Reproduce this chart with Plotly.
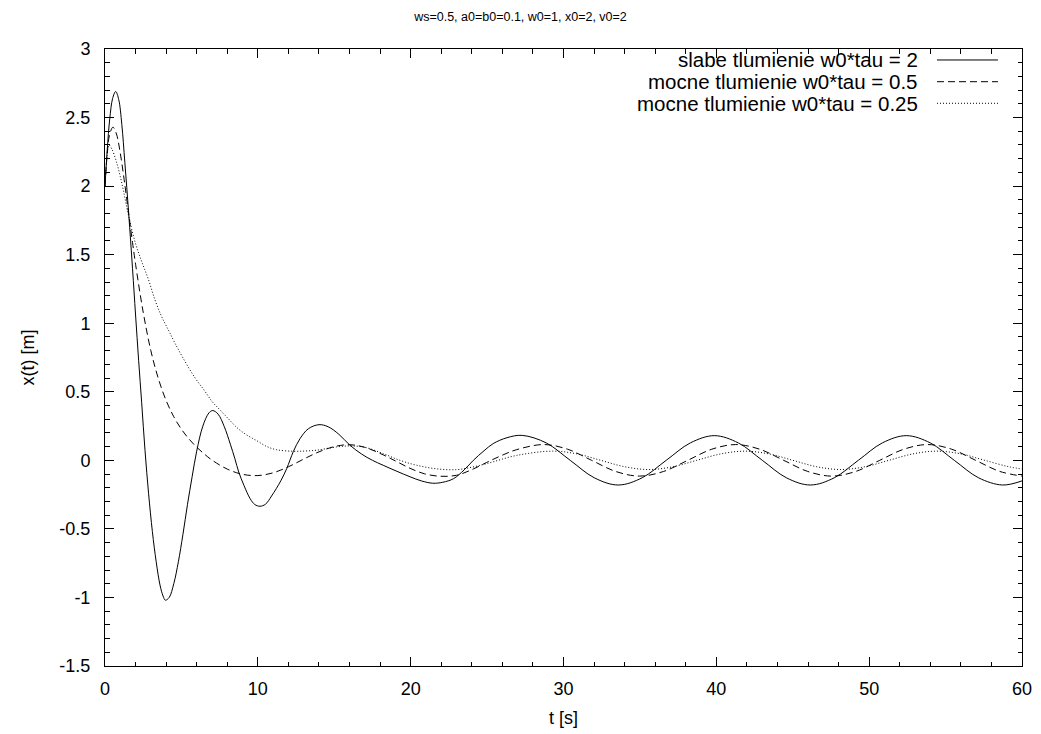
import plotly.graph_objects as go

# ---- data ----
title_text = "ws=0.5, a0=b0=0.1, w0=1, x0=2, v0=2"
names = ["slabe tlumienie w0*tau = 2",
         "mocne tlumienie w0*tau = 0.5",
         "mocne tlumienie w0*tau = 0.25"]

t_weak = [0, 0.15, 0.31, 0.5, 0.7, 0.9, 1.1, 1.3, 1.55, 1.8, 2.0, 2.2, 2.4, 2.62,
          2.85, 3.1, 3.35, 3.6, 3.8, 3.95, 4.2, 4.5, 4.8, 5.1, 5.4, 5.7, 6.0,
          6.4, 6.8, 7.05, 7.4, 7.8, 8.2, 8.5, 8.75, 9.1, 9.5, 9.8, 10.14, 10.5,
          10.9, 11.5, 11.89, 12.33, 12.76, 13.3, 14.0, 14.6, 15.3, 16.03, 16.8,
          17.5, 18.2, 19.1, 19.96, 20.7, 21.45, 22.1, 22.8, 23.5, 24.1, 24.8,
          25.4, 26.3, 27.3, 28.87, 30.44, 32.01, 33.58, 35.15, 36.72, 38.3,
          39.87, 41.44, 43.01, 44.58, 46.15, 47.72, 49.29, 50.86, 52.43, 54.0,
          55.57, 57.15, 58.72, 60]
x_weak = [2.00, 2.27, 2.49, 2.64, 2.69, 2.63, 2.45, 2.17, 1.80, 1.40, 1.06, 0.73,
          0.42, 0.07, -0.24, -0.52, -0.74, -0.91, -0.99, -1.02, -1.00, -0.90,
          -0.74, -0.54, -0.32, -0.12, 0.067, 0.249, 0.346, 0.363, 0.337, 0.247,
          0.118, 0.011, -0.085, -0.185, -0.28, -0.322, -0.335, -0.32, -0.26,
          -0.15, -0.06, 0.066, 0.158, 0.23, 0.26, 0.245, 0.19, 0.11, 0.045, 0.0,
          -0.036, -0.08, -0.12, -0.15, -0.167, -0.16, -0.134, -0.07, 0.0, 0.07,
          0.122, 0.165, 0.182, 0.127, 0.0, -0.127, -0.18, -0.127, 0.0, 0.127,
          0.18, 0.127, 0.0, -0.127, -0.18, -0.127, 0.0, 0.127, 0.18, 0.127, 0.0,
          -0.127, -0.18, -0.15]

t_strong05 = [0, 0.15, 0.3, 0.52, 0.75, 1.0, 1.25, 1.5, 1.8, 2.0, 2.5, 3.0, 3.5,
              4.0, 4.5, 5.0, 5.5, 6.0, 6.5, 7.0, 8.0, 9.0, 10.0, 11.0, 12.0,
              13.0, 14.0, 15.0, 16.0, 17.0, 18.2, 19.1, 19.96, 20.9, 21.9, 23.0,
              24.0, 24.98, 25.9, 26.94, 28.7, 30.27, 31.84, 33.41, 34.98, 36.55,
              38.13, 39.7, 41.27, 42.84, 44.41, 45.98, 47.55, 49.12, 50.69,
              52.26, 53.83, 55.4, 56.97, 58.55, 60]
x_strong05 = [2.00, 2.24, 2.375, 2.43, 2.38, 2.24, 2.05, 1.84, 1.59, 1.43, 1.08,
              0.80, 0.593, 0.436, 0.318, 0.227, 0.155, 0.096, 0.046, 0.002,
              -0.064, -0.102, -0.111, -0.091, -0.047, 0.009, 0.062, 0.100, 0.114,
              0.095, 0.040, -0.010, -0.058, -0.098, -0.116, -0.109, -0.068,
              -0.015, 0.033, 0.078, 0.115, 0.081, 0.0, -0.081, -0.115, -0.081,
              0.0, 0.081, 0.115, 0.081, 0.0, -0.081, -0.115, -0.081, 0.0, 0.081,
              0.115, 0.081, 0.0, -0.081, -0.115]

t_strong025 = [0, 0.12, 0.26, 0.45, 0.74, 1.0, 1.22, 1.53, 2.0, 2.4, 2.84, 3.27,
               3.7, 4.15, 4.6, 5.24, 5.9, 6.5, 7.0, 7.5, 8.1, 8.62, 9.2, 9.9,
               10.6, 11.24, 12.33, 13.1, 13.85, 15.16, 16.03, 17.0, 18.2, 19.3,
               20.4, 21.7, 23.0, 24.0, 24.98, 26.94, 29.3, 30.87, 32.44, 34.01,
               35.58, 37.15, 38.72, 40.3, 41.87, 43.44, 45.01, 46.58, 48.15,
               49.72, 51.29, 52.86, 54.43, 56.0, 57.57, 59.15, 60]
x_strong025 = [2.00, 2.20, 2.30, 2.27, 2.18, 2.07, 1.96, 1.79, 1.58, 1.45, 1.32,
               1.17, 1.05, 0.95, 0.85, 0.72, 0.60, 0.51, 0.43, 0.37, 0.30, 0.24,
               0.19, 0.145, 0.10, 0.077, 0.066, 0.068, 0.074, 0.098, 0.105,
               0.095, 0.049, 0.0, -0.036, -0.062, -0.068, -0.05, -0.024, 0.036,
               0.067, 0.047, 0.0, -0.047, -0.067, -0.047, 0.0, 0.047, 0.067,
               0.047, 0.0, -0.047, -0.067, -0.047, 0.0, 0.047, 0.067, 0.047, 0.0,
               -0.047, -0.063]

x_ticks = [0, 10, 20, 30, 40, 50, 60]
y_ticks = [-1.5, -1, -0.5, 0, 0.5, 1, 1.5, 2, 2.5, 3]
y_tick_text = ["-1.5", "-1", "-0.5", "0", "0.5", "1", "1.5", "2", "2.5", "3"]
x_label = "t [s]"
y_label = "x(t) [m]"

# ---- styles ----
FONT = "Liberation Sans"
dashes = ["solid", "7px,4px", "1px,2px"]
series = [(t_weak, x_weak), (t_strong05, x_strong05), (t_strong025, x_strong025)]

fig = go.Figure()
for (tt, xx), nm, ds in zip(series, names, dashes):
    fig.add_trace(go.Scatter(x=tt, y=xx, mode="lines", name=nm,
                             line=dict(color="black", width=1, dash=ds,
                                       shape="spline", smoothing=1.0),
                             showlegend=False))

# gnuplot-style key: right-aligned text with the sample line on its right
legend_y = [0.9822, 0.947, 0.912]
for nm, ds, ly in zip(names, dashes, legend_y):
    fig.add_annotation(x=0.8888, y=ly, xref="paper", yref="paper", text=nm,
                       showarrow=False, xanchor="right", yanchor="middle",
                       font=dict(family=FONT, size=20.5, color="black"))
    fig.add_shape(type="line", xref="paper", yref="paper", x0=0.9073, x1=0.9738,
                  y0=ly, y1=ly, line=dict(color="black", width=1, dash=ds))

axis_common = dict(
    showgrid=False, zeroline=False, showline=True, linecolor="black", linewidth=1,
    mirror="allticks", ticks="inside", ticklen=9, tickwidth=1, tickcolor="black",
    tickfont=dict(family=FONT, size=18, color="black"),
)

fig.update_xaxes(range=[0, 60], tickvals=x_ticks, ticktext=[str(v) for v in x_ticks],
                 minor=dict(ticks="inside", ticklen=4.5, dtick=2, tick0=0,
                            tickcolor="black", tickwidth=1),
                 title=dict(text=x_label, font=dict(family=FONT, size=18, color="black"),
                            standoff=13),
                 ticklabelstandoff=6, **axis_common)
fig.update_yaxes(range=[-1.5, 3], tickvals=y_ticks, ticktext=y_tick_text,
                 minor=dict(ticks="inside", ticklen=4.5, dtick=0.1, tick0=0,
                            tickcolor="black", tickwidth=1),
                 title=dict(text=y_label, font=dict(family=FONT, size=18, color="black"),
                            standoff=20),
                 ticklabelstandoff=10, **axis_common)

# page body has an 8px margin, so the figure is 8px smaller than the window
fig.update_layout(
    width=1033, height=726,
    margin=dict(l=97, r=19, t=41, b=68, autoexpand=False),
    paper_bgcolor="white", plot_bgcolor="white",
    title=dict(text=title_text, x=512.5 / 1033, xref="container", xanchor="center",
               y=1 - 9 / 726, yref="container", yanchor="middle",
               font=dict(family=FONT, size=12.5, color="black")),
    font=dict(family=FONT, color="black"),
)

fig.write_html("out.html")
